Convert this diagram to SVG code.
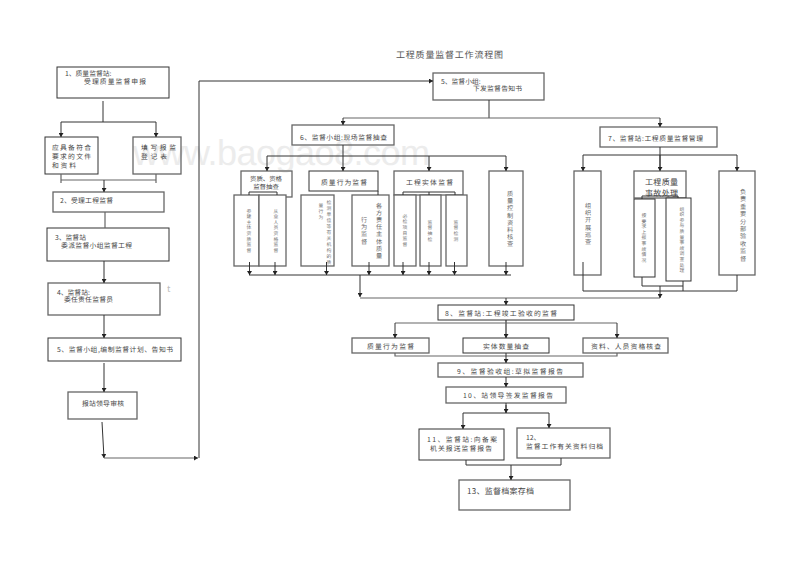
<svg xmlns="http://www.w3.org/2000/svg" width="800" height="566" viewBox="0 0 800 566">
<style>
text{font-family:"Noto Sans CJK SC","Liberation Sans",sans-serif;fill:#444;font-size:6.8px;dominant-baseline:central;text-rendering:geometricPrecision}
.v{text-anchor:middle;fill:#666;font-size:6.2px}
.s{font-size:4.8px;fill:#777}
.wm{font-family:"Liberation Sans",sans-serif;font-size:36px;fill:#ececec;dominant-baseline:auto}
.title{font-size:9px;fill:#555}
rect{fill:#fff;stroke:#333;stroke-width:1}
rect.g{stroke:#666;stroke-width:1.3}
rect.n{fill:none}
#connectors path{fill:none;stroke:#333;stroke-width:1}
#connectors path.a{marker-end:url(#arr)}
#connectors path.g{stroke:#666;stroke-width:1.2}
</style>
<defs>
<marker id="arr" markerUnits="userSpaceOnUse" markerWidth="5" markerHeight="5" refX="4" refY="2.5" orient="auto"><path d="M0 0L4 2.5L0 5Z" fill="#222"/></marker>
</defs>
<rect width="800" height="566" style="fill:#fff;stroke:none"/>
<text class="wm" x="133" y="165" textLength="297">www.baogao8.com</text>
<text class="title" x="396" y="54" textLength="107">工程质量监督工作流程图</text>
<text x="167" y="288" style="font-size:9px;fill:#bbb">t</text>

<g id="n1"><rect class="n" x="57" y="67" width="112" height="31"/><text x="65" y="72.500">1、质量监督站:</text><text x="84" y="80.500" textLength="62">受理质量监督申报</text></g>
<g id="n1a"><rect class="n" x="45" y="137" width="53" height="37"/><text x="52" y="147" textLength="39">应具备符合</text><text x="52" y="156" textLength="39">要求的文件</text><text x="52" y="165" textLength="24">和资料</text></g>
<g id="n1b"><rect class="n g" x="133" y="137" width="48" height="37"/><text x="141" y="147" textLength="35">填写报监</text><text x="141" y="156" textLength="26">登记表</text></g>
<g id="n2"><rect class="n g" x="53" y="192" width="111" height="20"/><text x="60" y="200" textLength="53">2、受理工程监督</text></g>
<g id="n3"><rect class="n" x="47" y="228" width="122" height="33"/><text x="55" y="236.500">3、监督站</text><text x="61" y="244.500" textLength="71">委派监督小组监督工程</text></g>
<g id="n4"><rect class="n g" x="48" y="283" width="112" height="32"/><text x="57" y="291.500">4、监督站:</text><text x="64" y="298.500" textLength="49">委任责任监督员</text></g>
<g id="n5"><rect class="n" x="48" y="338" width="133" height="23"/><text x="57" y="349" textLength="116">5、监督小组,编制监督计划、告知书</text></g>
<g id="n5b"><rect class="n g" x="68" y="392" width="69" height="27"/><text x="82" y="403" textLength="42">报站领导审核</text></g>

<g id="n6t"><rect class="n g" x="433" y="73" width="111" height="27"/><text x="441" y="80.500">5、监督小组:</text><text x="473" y="88" textLength="49">下发监督告知书</text></g>
<g id="n6"><rect class="n g" x="292" y="125" width="102" height="20"/><text x="300" y="137" textLength="87">6、监督小组:现场监督抽查</text></g>
<g id="n7"><rect class="n g" x="600" y="127" width="117" height="20"/><text x="608" y="138" textLength="95">7、监督站:工程质量监督管理</text></g>

<g id="a1"><rect class="n g" x="241" y="171" width="51" height="26"/><text x="266" y="178.500" text-anchor="middle" style="font-size:6.4px">资质、资格</text><text x="266" y="186" text-anchor="middle" style="font-size:6.4px">监督抽查</text></g>
<g id="a2"><rect class="n" x="309" y="171" width="69" height="20"/><text x="321" y="181.500" textLength="46">质量行为监督</text></g>
<g id="a3"><rect class="n g" x="394" y="171" width="69" height="24"/><text x="406" y="182" textLength="47">工程实体监督</text></g>
<g id="a4"><rect class="n g" x="489" y="171" width="34" height="95"/><text class="v" x="510 510 510 510 510 510 510 510" y="193.500 200.700 207.900 215.100 222.300 229.500 236.700 243.900">质量控制资料核查</text></g>

<g id="b1"><rect class="g" x="234" y="195" width="25" height="71"/><text class="v s" x="249 249 249 249 249 249 249 249" y="211 216.600 222.200 227.800 233.400 239 244.600 250.200">参建主体资质监督</text></g>
<g id="b2"><rect class="g" x="259" y="195" width="27" height="71"/><text class="v s" x="276 276 276 276 276 276 276 276" y="211 216.600 222.200 227.800 233.400 239 244.600 250.200">从业人员资格监督</text></g>
<g id="b3"><rect class="g" x="301" y="195" width="33" height="71"/><text class="v s" x="329 329 329 329 329 329 329 329 329 329 329" y="202 208 214 220 226 232 238 244 250 256 262">检测单位等有关机构的质</text><text class="v s" x="321 321 321" y="205 211 217">量行为</text></g>
<g id="b4"><rect class="g" x="352" y="195" width="37" height="71"/><text class="v" x="379 379 379 379 379 379 379 379" y="205.500 212.600 219.700 226.800 233.900 241 248.100 255.200">各方责任主体质量</text><text class="v" x="364 364 364 364" y="219.500 226.700 233.900 241.100">行为监督</text></g>
<g id="b5"><rect class="g" x="394" y="195" width="22" height="71"/><text class="v s" x="405 405 405 405 405 405" y="216 221.700 227.400 233.100 238.800 244.500">必检项目监督</text></g>
<g id="b6"><rect class="g" x="420" y="195" width="21" height="71"/><text class="v s" x="430 430 430 430" y="222 227.700 233.400 239.100">监督抽检</text></g>
<g id="b7"><rect class="g" x="446" y="195" width="21" height="71"/><text class="v s" x="456 456 456 456" y="222 227.700 233.400 239.100">监督检测</text></g>

<g id="c1"><rect class="n g" x="574" y="171" width="27" height="104"/><text class="v" x="588 588 588 588 588 588" y="205.500 212.700 219.900 227.100 234.300 241.500">组织开展巡查</text></g>
<g id="c2"><rect class="n g" x="634" y="171" width="52" height="27"/><text x="645" y="182" textLength="33" style="font-size:8px">工程质量</text><text x="645" y="193" textLength="33" style="font-size:8px">事故处理</text></g>
<g id="c3"><rect class="n g" x="719" y="171" width="36" height="104"/><text class="v" x="743 743 743 743 743 743 743 743 743 743" y="191.500 198.900 206.300 213.700 221.100 228.500 235.900 243.300 250.700 258.100">负责重要分部验收监督</text></g>
<g id="c4"><rect x="634" y="199" width="21" height="78"/><text class="v s" x="644 644 644 644 644 644 644 644 644" y="215.500 221.100 226.700 232.300 237.900 243.500 249.100 254.700 260.300">按要求上报事故情况</text></g>
<g id="c5"><rect x="666" y="198" width="25" height="83"/><text class="v s" x="682 682 682 682 682 682 682 682 682 682 682 682" y="209 214.600 220.200 225.800 231.400 237 242.600 248.200 253.800 259.400 265 270.600">组织参与质量事故调查处理</text></g>

<g id="n8"><rect class="n" x="438" y="305" width="136" height="15"/><text x="445" y="313" textLength="112">8、监督站:工程竣工验收的监督</text></g>
<g id="n8a"><rect class="n g" x="352" y="338" width="77" height="15"/><text x="367" y="346" textLength="47">质量行为监督</text></g>
<g id="n8b"><rect class="n" x="463" y="338" width="86" height="15"/><text x="483" y="346" textLength="46">实体数量抽查</text></g>
<g id="n8c"><rect class="n g" x="583" y="338" width="85" height="15"/><text x="591" y="346" textLength="70">资料、人员资格核查</text></g>
<g id="n9"><rect class="n g" x="438" y="363" width="145" height="14"/><text x="457" y="371" textLength="106">9、监督验收组:草拟监督报告</text></g>
<g id="n10"><rect class="n g" x="446" y="387" width="120" height="16"/><text x="463" y="395" textLength="90">10、站领导签发监督报告</text></g>
<g id="n11"><rect class="n" x="419" y="429" width="85" height="31"/><text x="427" y="439" textLength="70">11、监督站:向备案</text><text x="430" y="448" textLength="62">机关报送监督报告</text></g>
<g id="n12"><rect class="n g" x="517" y="428" width="93" height="30"/><text x="526" y="437">12、</text><text x="526" y="446" textLength="77">监督工作有关资料归档</text></g>
<g id="n13"><rect class="n g" x="459" y="480" width="111" height="30"/><text x="467" y="491" textLength="67" style="font-size:8px">13、监督档案存档</text></g>

<g id="connectors">
<path d="M103 101V122M61 122H156"/>
<path class="a" d="M61 122V137"/><path class="a" d="M156 122V137"/>
<path d="M61 174V183M156 174V183M61 180H156" class="g"/>
<path class="a" d="M104 180V192"/>
<path class="g" d="M105 212V228"/>
<path class="a" d="M104 261V283"/>
<path class="a" d="M104 315V338"/>
<path class="a" d="M104 363V392"/>
<path class="a" d="M102 422L104 458"/>
<path class="a g" d="M104 458H198"/>
<path d="M199 458V81"/>
<path class="a" d="M199 81H433"/>
<path d="M489 100V118"/>
<path class="g" d="M343 118H660"/>
<path class="a" d="M343 118V125"/>
<path class="a" d="M660 118V127"/>
<path class="a" d="M343 145V171"/>
<path d="M267 156H506"/>
<path class="a" d="M267 156V171"/><path class="a" d="M429 156V171"/><path class="a" d="M506 156V171"/>
<path d="M249 195V192H277V195"/>
<path d="M403 195V192H455V195M429 192V195"/>
<path d="M378 191V195"/>
<path d="M249 275H511"/>
<path class="a" d="M249.500 262V275"/><path class="a" d="M275 262V275"/><path class="a" d="M326.500 262V275"/><path class="a" d="M369 262V275"/><path class="a" d="M403 262V275"/><path class="a" d="M429 262V275"/><path class="a" d="M454.500 262V275"/><path class="a" d="M506 262V275"/>
<path class="a" d="M360 275V297"/>
<path class="g" d="M360 298H660"/>
<path class="a" d="M660 286V298"/>
<path class="a" d="M506 298V305"/>
<path d="M660 147V170"/>
<path d="M583 155H737"/>
<path class="a" d="M583 155V171"/><path class="a" d="M660 155V171"/><path class="a" d="M737 155V171"/>
<path d="M642 199V196H678V198"/>
<path d="M583 262V291H737V275"/>
<path d="M642 277V286H683V281M683 286V291"/>
<path class="a" d="M506 320V338" style="stroke-width:1.2"/>
<path class="g" d="M395 323H617"/>
<path class="a" d="M395 323V338"/><path class="a" d="M617 323V338"/>
<path class="g" d="M395 353V356H617V353"/>
<path class="a" d="M506 353V363"/>
<path class="a" d="M506 377V387"/>
<path d="M506 403V413M463 413H549"/>
<path class="a" d="M506 405V413"/>
<path class="a" d="M463 413V429"/><path class="a" d="M549 413V428"/>
<path d="M466 460V465H561V458"/>
<path class="a" d="M511 465V480"/>
</g>
</svg>
